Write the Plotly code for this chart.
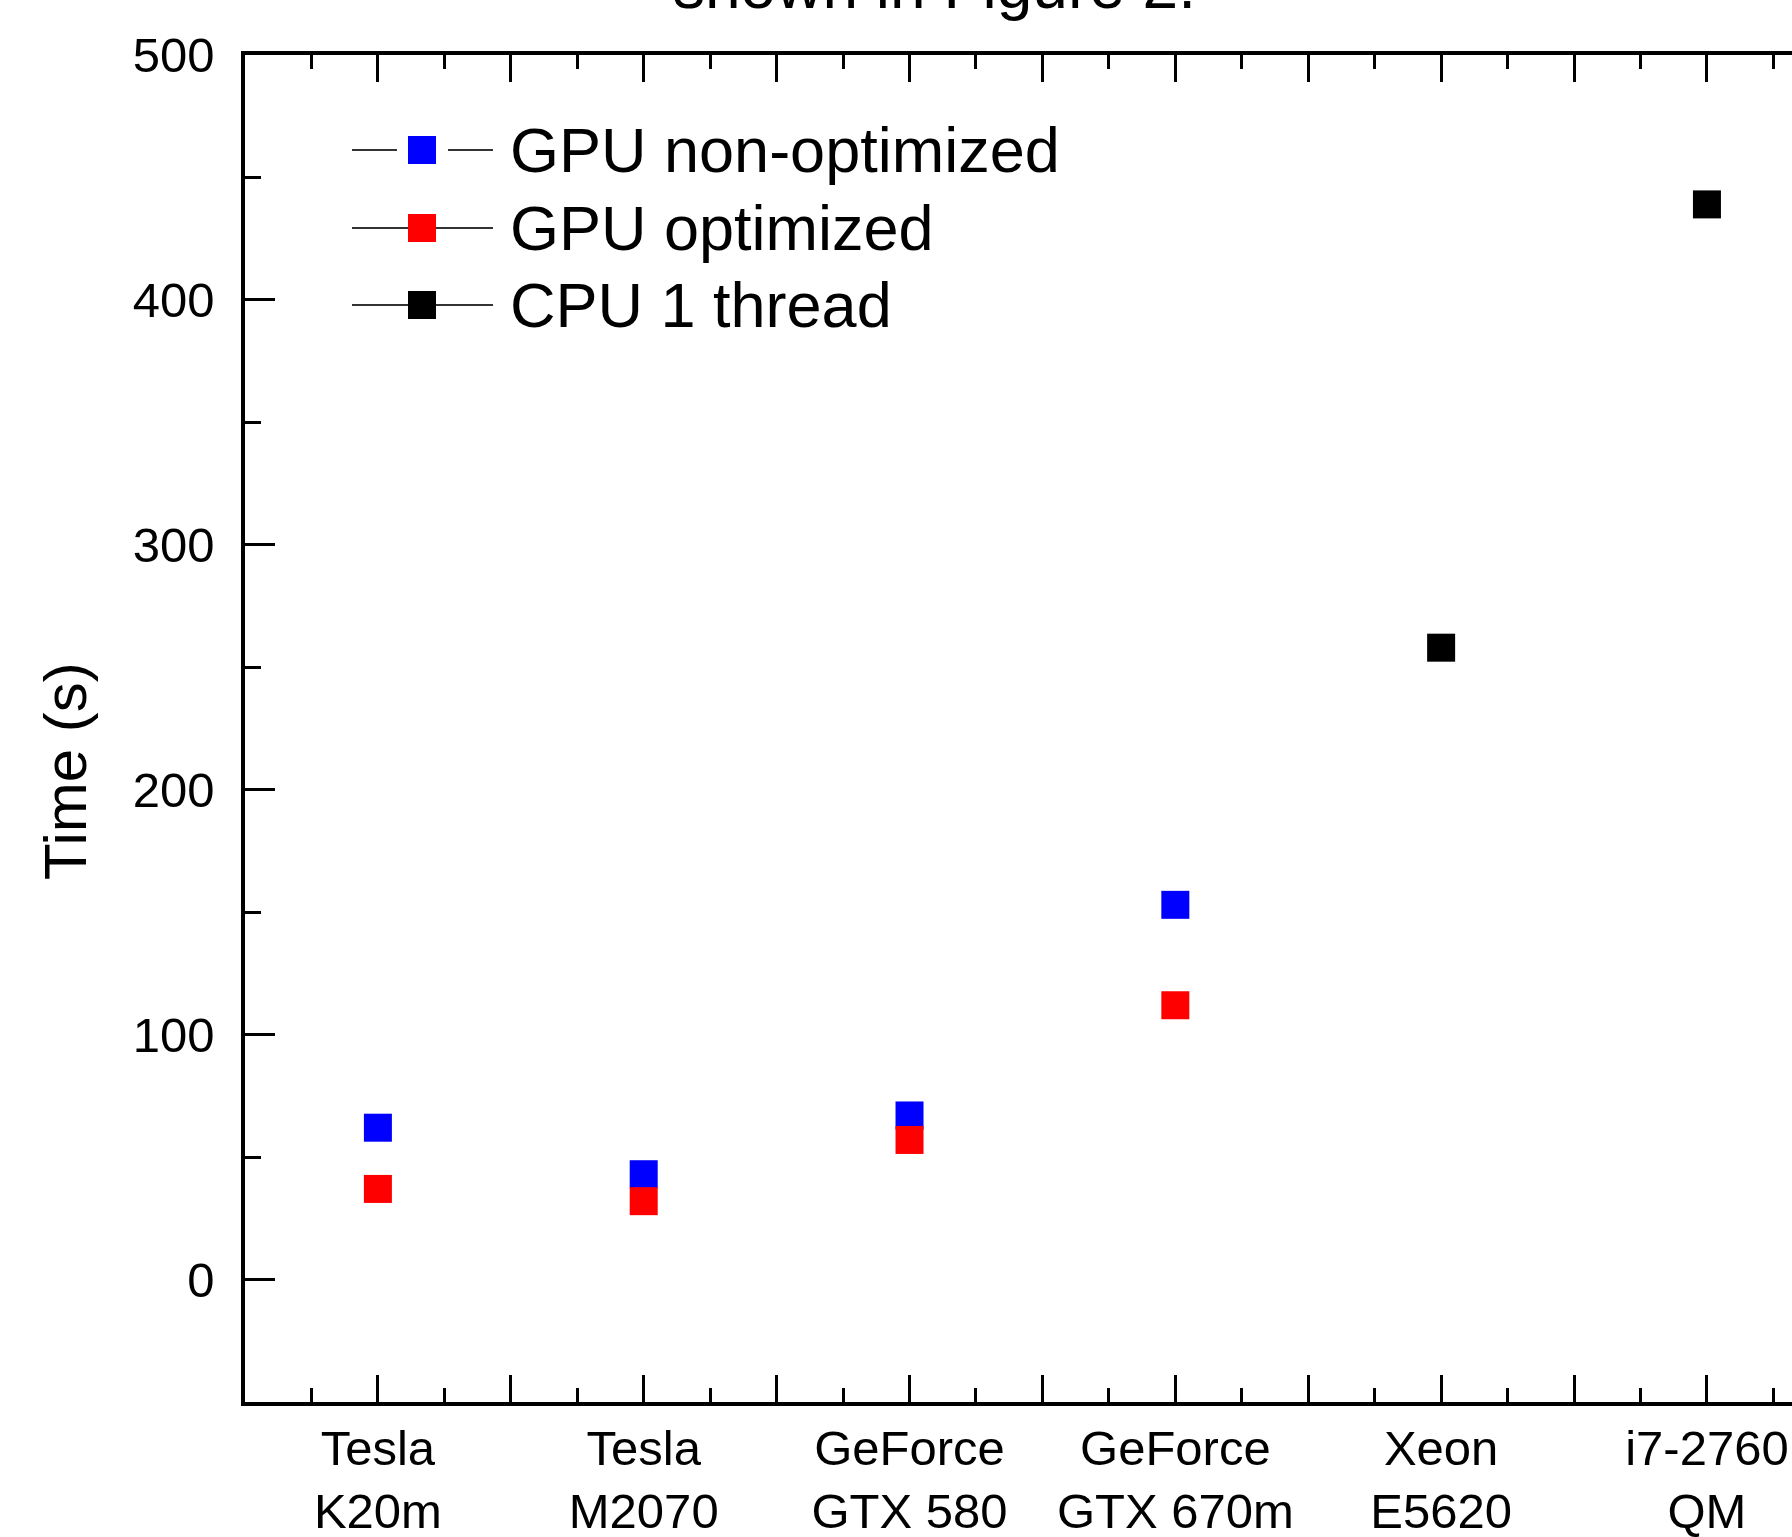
import plotly.graph_objects as go

# ---------------- data ----------------
categories = ["Tesla<br>K20m", "Tesla<br>M2070", "GeForce<br>GTX 580",
              "GeForce<br>GTX 670m", "Xeon<br>E5620", "i7-2760<br>QM"]
gpu_non_optimized = [62, 43, 67, 153, None, None]
gpu_optimized = [37, 32, 57, 112, None, None]
cpu_1_thread = [None, None, None, None, 258, 439]
series_names = ["GPU non-optimized", "GPU optimized", "CPU 1 thread"]
series_colors = ["#0000FF", "#FF0000", "#000000"]
y_tick_values = [0, 100, 200, 300, 400, 500]

# ---------------- layout geometry ----------------
W, H = 1792, 1537
L, T, B = 245, 55, 135
PW, PH = W - L, H - T - B
x_range = [0.5, 6.32]
y_range = [-50, 500]
FONT = "Arial, Liberation Sans, Arimo, sans-serif"


def px_x(px):
    return (px - L) / PW


def px_y(py):
    return (H - B - py) / PH


xpos = list(range(1, len(categories) + 1))

fig = go.Figure()
for name, vals, col in zip(series_names,
                           [gpu_non_optimized, gpu_optimized, cpu_1_thread],
                           series_colors):
    fig.add_trace(go.Scatter(
        x=xpos, y=vals, mode="markers", name=name,
        marker=dict(symbol="square", size=28, color=col,
                    line=dict(width=0)),
        showlegend=False, cliponaxis=False))

major_x = [0.5 + 0.5 * i for i in range(12)]
major_text = []
for v in major_x:
    if abs(v - round(v)) < 1e-9:
        major_text.append(categories[int(round(v)) - 1])
    else:
        major_text.append("")
minor_x = [0.75 + 0.5 * i for i in range(12)]

axis_common = dict(showline=True, linewidth=3.5, linecolor="black",
                   ticks="inside", tickwidth=3, tickcolor="black",
                   showgrid=False, zeroline=False, automargin=False)

fig.update_layout(
    width=W, height=H,
    margin=dict(l=L, r=0, t=T, b=B),
    paper_bgcolor="white", plot_bgcolor="white",
    font=dict(family=FONT, color="black", size=49),
    showlegend=False,
    xaxis=dict(range=x_range, tickmode="array", tickvals=major_x,
               ticktext=major_text, ticklen=27,
               minor=dict(tickvals=minor_x, ticklen=14, ticks="inside",
                          tickwidth=3, tickcolor="black"),
               tickfont=dict(size=49), ticklabelstandoff=0,
               **axis_common),
    xaxis2=dict(range=x_range, overlaying="x", side="top",
                tickmode="array", tickvals=major_x, ticklen=27,
                showticklabels=False,
                minor=dict(tickvals=minor_x, ticklen=14, ticks="inside",
                           tickwidth=3, tickcolor="black"),
                **axis_common),
    yaxis=dict(range=y_range, tickmode="array", tickvals=y_tick_values,
               ticklen=30,
               minor=dict(tickvals=[-50 + 100 * i for i in range(6)],
                          ticklen=16, ticks="inside", tickwidth=3,
                          tickcolor="black"),
               tickfont=dict(size=49), ticklabelstandoff=17,
               **axis_common),
)

# invisible trace to register top axis
fig.add_trace(go.Scatter(x=[1], y=[0], xaxis="x2", mode="markers",
                         marker=dict(opacity=0), showlegend=False,
                         hoverinfo="skip"))

annotations = []
shapes = []
# y-axis title
annotations.append(dict(text="Time (s)", xref="paper", yref="paper",
                        x=px_x(66), y=px_y(771), textangle=-90,
                        showarrow=False, font=dict(size=60),
                        xanchor="center", yanchor="middle"))
# partially visible caption text at the very top
annotations.append(dict(text="shown in Figure 2.", xref="paper", yref="paper",
                        x=px_x(934), y=px_y(24), showarrow=False,
                        font=dict(size=64), xanchor="center",
                        yanchor="bottom"))

# custom legend
rows_y = [150, 228, 305]
mx = 422
half = 14
for i, (name, col) in enumerate(zip(series_names, series_colors)):
    yy = px_y(rows_y[i])
    if i == 0:
        segs = [(352, 397), (448, 493)]
    else:
        segs = [(352, 493)]
    for a, b in segs:
        shapes.append(dict(type="line", xref="paper", yref="paper",
                           x0=px_x(a), x1=px_x(b), y0=yy, y1=yy,
                           line=dict(color="#333333", width=2)))
    shapes.append(dict(type="rect", xref="paper", yref="paper",
                       x0=px_x(mx - half), x1=px_x(mx + half),
                       y0=px_y(rows_y[i] + half), y1=px_y(rows_y[i] - half),
                       fillcolor=col, line=dict(width=0)))
    annotations.append(dict(text=name, xref="paper", yref="paper",
                            x=px_x(508), y=yy, showarrow=False,
                            font=dict(size=63), xanchor="left",
                            yanchor="middle"))

fig.update_layout(annotations=annotations, shapes=shapes)
fig.write_html("out.html")
